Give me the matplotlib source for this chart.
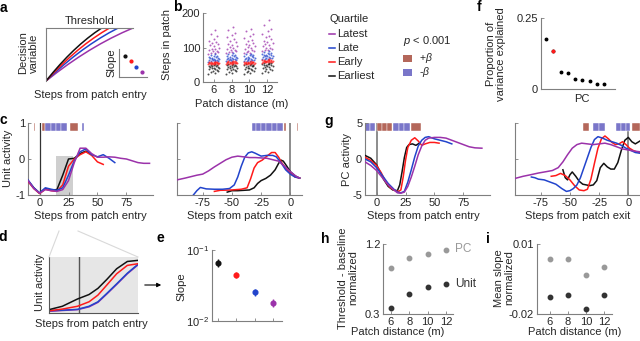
import numpy as np
import matplotlib
matplotlib.use('Agg')
import matplotlib.pyplot as plt
from matplotlib.lines import Line2D
from matplotlib.patches import Rectangle, FancyArrowPatch

plt.rcParams['font.family'] = ['Liberation Sans', 'DejaVu Sans']
plt.rcParams['font.size'] = 8
plt.rcParams['axes.unicode_minus'] = False
plt.rcParams['mathtext.fontset'] = 'custom'
plt.rcParams['mathtext.rm'] = 'Liberation Sans'
plt.rcParams['mathtext.it'] = 'Liberation Sans:italic'

# ---------------- data ----------------
quartiles = ['Latest', 'Late', 'Early', 'Earliest']

# a: schematic decision variable curves (x positions, shared y)
a_y = [0, 0.16, 0.31, 0.45, 0.58, 0.70, 0.81, 0.91, 1.0]
a_x_latest = [0, 0.125, 0.25, 0.375, 0.5, 0.625, 0.75, 0.875, 1.0]
a_x_late = [0, 0.104, 0.208, 0.311, 0.415, 0.519, 0.623, 0.726, 0.83]
a_x_early = [0, 0.091, 0.183, 0.274, 0.365, 0.456, 0.548, 0.639, 0.73]
a_x_earliest = [0, 0.08, 0.16, 0.24, 0.32, 0.40, 0.48, 0.56, 0.64]
a_slope_x = [1, 2, 3, 4]
a_slope_y = [3.75, 2.86, 1.79, 0.89]

# b: steps in patch per patch distance and quartile
distances = [6, 8, 10, 12]
jitter = [-0.6, 0.1, -0.3, 0.5, -0.1, 0.35, -0.5, 0.2, -0.2, 0.6,
          0.0, -0.4, 0.45, -0.15, 0.25, -0.55, 0.05, 0.4, -0.35, 0.15]
b_earliest = [
    [22, 26, 29, 31, 33, 35, 37, 38, 40, 41, 42, 43, 44, 45, 46, 47, 48, 49, 50, 51],
    [23, 27, 30, 32, 34, 36, 38, 39, 41, 42, 43, 44, 45, 46, 47, 48, 49, 50, 51, 52],
    [22, 26, 29, 31, 33, 35, 37, 39, 40, 41, 42, 44, 45, 46, 47, 48, 49, 50, 51, 52],
    [25, 29, 32, 35, 37, 39, 41, 43, 44, 46, 47, 48, 49, 50, 51, 52, 53, 54, 55, 56]]
b_early = [
    [51, 52, 52, 53, 53, 54, 54, 54, 55, 55, 55, 56, 56, 56, 57, 57, 57, 58, 58, 59],
    [52, 53, 53, 54, 54, 55, 55, 56, 56, 56, 57, 57, 57, 58, 58, 59, 59, 60, 60, 61],
    [52, 52, 53, 53, 54, 54, 55, 55, 55, 56, 56, 56, 57, 57, 58, 58, 58, 59, 59, 60],
    [56, 57, 57, 58, 58, 59, 59, 60, 60, 61, 61, 62, 62, 62, 63, 63, 64, 64, 65, 66]]
b_late = [
    [59, 60, 61, 62, 63, 64, 64, 65, 66, 67, 68, 69, 70, 71, 72, 73, 75, 76, 78, 80],
    [61, 62, 63, 64, 65, 66, 67, 67, 68, 69, 70, 71, 72, 73, 74, 76, 77, 79, 81, 83],
    [60, 61, 62, 63, 64, 65, 66, 67, 68, 69, 70, 71, 72, 73, 74, 75, 77, 78, 80, 82],
    [66, 67, 68, 69, 70, 71, 72, 73, 74, 75, 76, 77, 78, 79, 80, 81, 83, 85, 87, 90]]
b_latest = [
    [81, 83, 85, 87, 89, 91, 93, 95, 97, 100, 103, 106, 109, 112, 116, 120, 126, 132, 140, 150],
    [84, 86, 88, 90, 92, 94, 96, 99, 102, 105, 108, 111, 115, 119, 124, 129, 135, 142, 150, 158],
    [83, 85, 87, 89, 91, 93, 95, 98, 101, 104, 107, 110, 114, 118, 122, 127, 133, 140, 148, 155],
    [90, 92, 94, 96, 98, 100, 103, 106, 109, 112, 116, 120, 124, 129, 134, 140, 147, 155, 165, 180]]

# f: variance explained per PC
pc_idx = [1, 2, 3, 4, 5, 6, 7, 8, 9]
pc_var = [0.176, 0.134, 0.060, 0.056, 0.035, 0.032, 0.029, 0.018, 0.017]

# c: unit activity aligned to patch entry
c_entry = {
    'Earliest': ([-10, -5, 0, 5, 10, 15, 20, 25, 30, 35, 40, 45],
                 [-0.60, -0.80, -0.95, -0.82, -0.86, -0.85, -0.45, 0.00, 0.02, 0.15, 0.22, 0.12]),
    'Early': ([-10, -5, 0, 5, 10, 15, 20, 25, 30, 35, 40, 45, 50, 55],
              [-0.62, -0.82, -0.96, -0.84, -0.88, -0.90, -0.72, -0.20, 0.00, 0.12, 0.20, 0.10, -0.08, -0.15]),
    'Late': ([-10, -5, 0, 5, 10, 15, 20, 25, 30, 35, 40, 45, 50, 55, 60, 65],
             [-0.58, -0.80, -0.94, -0.80, -0.84, -0.87, -0.80, -0.45, -0.05, 0.20, 0.28, 0.12, 0.06, 0.12, 0.02, -0.10]),
    'Latest': ([-10, -5, 0, 5, 10, 15, 20, 25, 30, 35, 40, 45, 50, 55, 60, 65, 70, 75, 80, 85, 90, 95],
               [-0.60, -0.82, -0.95, -0.85, -0.88, -0.90, -0.85, -0.60, -0.10, 0.30, 0.30, 0.15, 0.05, 0.05,
                0.06, 0.05, 0.02, 0.00, -0.05, -0.10, -0.12, -0.12]),
}
# c: unit activity aligned to patch exit
c_exit = {
    'Earliest': ([-54, -50, -45, -40, -35, -31, -28, -25, -21, -17, -13, -10, -8, -6, -3, 0, 4, 8],
                 [-0.92, -0.88, -0.88, -0.87, -0.86, -0.80, -0.68, -0.60, -0.54, -0.45, -0.30, -0.12, -0.03,
                  -0.06, -0.20, -0.35, -0.47, -0.53]),
    'Early': ([-65, -60, -50, -42, -37, -34, -31, -28, -24, -20, -16, -13, -10, -7, -4, 0, 4, 8],
              [-0.90, -0.87, -0.86, -0.84, -0.80, -0.55, -0.25, -0.10, -0.03, 0.08, 0.18, 0.18, 0.05, -0.12,
               -0.25, -0.40, -0.50, -0.53]),
    'Late': ([-83, -80, -77, -72, -65, -58, -52, -48, -45, -42, -39, -36, -33, -30, -25, -20, -15, -12, -8, -4,
              0, 4, 8],
             [-1.00, -0.88, -0.79, -0.83, -0.84, -0.84, -0.82, -0.72, -0.50, -0.20, 0.05, 0.17, 0.20, 0.16, 0.08,
              0.10, 0.10, 0.06, -0.10, -0.30, -0.42, -0.50, -0.53]),
    'Latest': ([-97, -90, -80, -75, -70, -65, -60, -55, -50, -45, -40, -35, -30, -25, -20, -15, -10, -5, 0, 5, 8],
               [-0.58, -0.53, -0.45, -0.42, -0.33, -0.22, -0.12, -0.02, 0.05, 0.08, 0.06, 0.04, 0.04, 0.03, 0.02,
                -0.02, -0.06, -0.20, -0.35, -0.48, -0.53]),
}
# g: PC activity aligned to patch entry
g_entry = {
    'Earliest': ([-10, -5, 0, 3, 6, 10, 14, 18, 20, 22, 24, 26, 28, 31, 34, 37],
                 [0.5, 0.1, -0.8, -1.8, -2.8, -3.8, -4.3, -4.4, -3.6, -1.8, 0.2, 1.6, 2.0, 2.1, 1.9, 2.2]),
    'Early': ([-10, -5, 0, 4, 8, 12, 16, 19, 21, 23, 25, 27, 30, 33, 36, 39, 42, 46, 50, 54],
              [0.25, -0.2, -0.9, -1.9, -3.2, -4.0, -4.4, -4.5, -4.3, -2.5, -0.2, 1.6, 2.6, 2.95, 2.5, 1.9, 2.1,
               2.3, 2.3, 2.2]),
    'Late': ([-10, -5, 0, 5, 10, 15, 18, 21, 24, 27, 30, 33, 36, 39, 42, 45, 50, 55, 60, 65],
             [0.0, -0.4, -1.2, -2.3, -3.4, -4.2, -4.6, -4.7, -4.5, -3.2, -1.5, 0.3, 1.8, 2.6, 3.0, 3.1, 2.8, 2.6,
              2.4, 2.1]),
    'Latest': ([-10, -5, 0, 5, 10, 15, 18, 21, 24, 27, 30, 33, 36, 39, 42, 45, 50, 55, 60, 65, 70, 75, 80, 85, 91],
               [-0.4, -0.9, -1.6, -2.6, -3.6, -4.3, -4.7, -4.75, -4.6, -3.8, -2.5, -1.0, 0.6, 1.8, 2.6, 2.9, 3.0,
                3.0, 2.9, 2.6, 2.3, 2.0, 1.7, 1.55, 1.5]),
}
# g: PC activity aligned to patch exit
g_exit = {
    'Earliest': ([-56, -54, -52, -50, -48, -45, -42, -39, -36, -33, -30, -27, -24, -21, -18, -15, -12, -9, -6, -3,
                  0, 3, 6, 10],
                 [-1.5, -2.6, -2.9, -2.2, -1.8, -2.4, -3.1, -3.5, -3.6, -3.7, -3.6, -3.0, -1.2, -0.6, -1.1, -1.4,
                  -1.4, -0.5, 1.2, 2.6, 3.0, 2.4, 2.1, 2.5]),
    'Early': ([-66, -62, -58, -54, -50, -46, -42, -38, -35, -32, -29, -26, -23, -20, -17, -14, -11, -8, -5, -2,
               1, 4, 7, 10],
              [-2.4, -2.3, -2.0, -2.3, -2.9, -3.7, -4.3, -4.4, -4.2, -2.8, -0.6, 1.5, 2.8, 3.2, 2.8, 2.3, 2.0, 2.1,
               2.4, 2.0, 1.5, 1.2, 1.0, 0.9]),
    'Late': ([-83, -80, -77, -72, -67, -62, -57, -53, -50, -47, -44, -41, -38, -35, -32, -29, -26, -22, -18, -14,
              -10, -6, -2, 2, 6, 10],
             [-2.5, -2.6, -2.8, -2.9, -3.2, -3.5, -4.1, -4.5, -4.4, -4.1, -3.6, -2.6, -1.2, 0.2, 1.6, 2.7, 3.1, 2.9,
              2.6, 2.4, 2.2, 1.9, 1.5, 1.2, 0.9, 0.8]),
    'Latest': ([-97, -90, -84, -77, -70, -65, -60, -56, -52, -48, -44, -40, -35, -30, -25, -20, -15, -10, -5, 0,
                5, 10],
               [-2.7, -2.4, -2.2, -1.95, -1.75, -1.6, -1.2, -0.4, 0.6, 1.5, 2.0, 2.2, 2.1, 2.0, 2.1, 2.2, 2.0, 1.7,
                1.4, 1.25, 1.1, 1.0]),
}
# significance bars (start, width)
c_entry_pos = [(-4.8, 0.7), (2, 3), (26, 7)]
c_entry_neg = [(5, 4.6), (9.6, 4.6), (14.2, 4.6), (18.8, 4.8), (36.5, 1.5)]
c_exit_pos = [(-5.2, 1.5), (5.6, 0.8)]
c_exit_neg = [(-33, 4), (-29, 4), (-25, 4.3), (-20.5, 4.6), (-15.9, 4.6), (-11.3, 4.7)]
g_entry_pos = [(0, 4.5), (4.5, 4.5), (9, 4.5), (30, 8.5)]
g_entry_neg = [(-10, 4.5), (-5.5, 3.8), (14.5, 4.8), (19.3, 4.8), (24.1, 4.9)]
g_exit_pos = [(-39, 5.4), (3.2, 6.5)]
g_exit_neg = [(-30, 5), (-25, 5), (-10.3, 4), (-6.3, 4), (-2.3, 4)]
zoom_window = (14.4, 29.3)

# d: zoomed schematic of unit activity
d_x = [0, 0.15, 0.32, 0.45, 0.55, 0.65, 0.76, 0.88, 1.0]
d_earliest = [0.06, 0.12, 0.25, 0.33, 0.44, 0.60, 0.79, 0.92, 0.94]
d_early = [0.04, 0.07, 0.12, 0.20, 0.32, 0.50, 0.70, 0.85, 0.88]
d_late = [0.04, 0.05, 0.065, 0.12, 0.20, 0.35, 0.52, 0.71, 0.87]
d_latest = [0.03, 0.045, 0.06, 0.11, 0.19, 0.34, 0.51, 0.70, 0.86]
d_entry = 0.34

# e: slope per quartile (earliest -> latest)
e_x = [1, 2, 3, 4]
e_slope = [0.066, 0.0445, 0.0253, 0.018]
e_lo = [0.058, 0.040, 0.0225, 0.016]
e_hi = [0.074, 0.049, 0.0285, 0.0205]

# h, i: per patch distance
h_pc = [0.895, 1.016, 1.07, 1.12]
h_unit = [0.373, 0.553, 0.643, 0.68]
i_pc = [0.0036, 0.0036, -0.0033, 0.0000]
i_unit = [-0.0127, -0.0119, -0.0179, -0.0119]

# ---------------- style ----------------
COL = {'Latest': '#9b32aa', 'Late': '#2244cc', 'Early': '#ff1a1a', 'Earliest': '#111111'}
POS_C = '#b4675a'
NEG_C = '#7a76c9'
SPINE = '#7f7f7f'
TXT = '#262626'

W, H = 640, 341
fig = plt.figure(figsize=(6.4, 3.41), dpi=100)


def box(x0, y0, x1, y1):
    return [x0 / W, 1 - y1 / H, (x1 - x0) / W, (y1 - y0) / H]


def ftext(x, y, s, **kw):
    kw.setdefault('ha', 'center')
    kw.setdefault('va', 'center')
    kw.setdefault('color', TXT)
    kw.setdefault('fontsize', 8)
    fig.text(x / W, 1 - y / H, s, **kw)


def style(ax, left=True, bottom=True):
    ax.spines['top'].set_visible(False)
    ax.spines['right'].set_visible(False)
    ax.spines['left'].set_visible(left)
    ax.spines['bottom'].set_visible(bottom)
    for sp in ax.spines.values():
        sp.set_color(SPINE)
        sp.set_linewidth(0.8)
    ax.tick_params(direction='in', length=2, width=0.6, color=SPINE, labelsize=8, pad=2, labelcolor=TXT)
    ax.patch.set_alpha(0)


def fline(x0, y0, x1, y1, **kw):
    fig.add_artist(Line2D([x0 / W, x1 / W], [1 - y0 / H, 1 - y1 / H], transform=fig.transFigure, **kw))


# panel letters
for lab, (x, y) in {'a': (3, 8), 'b': (177, 7), 'c': (3, 120), 'd': (3, 237), 'e': (160, 238),
                    'f': (479, 7), 'g': (329, 121), 'h': (325, 239), 'i': (488, 239)}.items():
    ftext(x, y, lab, fontsize=10, fontweight='bold', color='black')

# ---- a ----
ax = fig.add_axes(box(46, 28, 133, 81))
style(ax, bottom=False)
ax.spines['top'].set_visible(True)
ax.set_xticks([])
ax.set_yticks([])
for q, xs in zip(quartiles, [a_x_latest, a_x_late, a_x_early, a_x_earliest]):
    ax.plot(xs, a_y, color=COL[q], lw=1.1)
ax.set_xlim(0, 1)
ax.set_ylim(0, 1)
ftext(90, 21, 'Threshold')
ftext(29, 53, 'Decision\nvariable', rotation=90, linespacing=1.1)
ftext(90, 95, 'Steps from patch entry')

ax = fig.add_axes(box(119, 49, 147, 77))
style(ax)
ax.set_xticks([])
ax.set_yticks([])
for q, x, y in zip(quartiles[::-1], a_slope_x, a_slope_y):
    ax.plot(x, y, 'o', color=COL[q], ms=2)
ax.set_xlim(-0.06, 4.88)
ax.set_ylim(0, 5)
ftext(111, 63, 'Slope', rotation=90)

# ---- b ----
ax = fig.add_axes(box(203, 13, 277, 82))
style(ax)
for vals, q in [(b_latest, 'Latest'), (b_late, 'Late'), (b_earliest, 'Earliest'), (b_early, 'Early')]:
    for d, ys in zip(distances, vals):
        ax.scatter(np.array(jitter) + d, ys, s=2, color=COL[q], linewidths=0, alpha=0.75)
ax.set_xlim(4.8, 13.1)
ax.set_ylim(0, 200)
ax.set_xticks(distances)
ax.set_yticks([0, 100, 200])
ftext(167, 45, 'Steps in patch', rotation=90)
ftext(242, 104, 'Patch distance (m)')

# legend: quartiles
ftext(330, 19, 'Quartile', ha='left')
for k, q in enumerate(quartiles):
    yy = 34 + 14 * k
    fline(329, yy, 335, yy, color=COL[q], lw=1.1)
    ftext(337, yy, q, ha='left')
# legend: significance
ftext(403, 41, '$p$ < 0.001', ha='left')
for k, (c, s) in enumerate([(POS_C, '+$\\beta$'), (NEG_C, '-$\\beta$')]):
    yy = 58 + 14 * k
    fig.add_artist(Rectangle((403 / W, 1 - (yy + 3.5) / H), 9 / W, 7 / H, transform=fig.transFigure,
                             facecolor=c, edgecolor='none'))
    ftext(419, yy, s, ha='left', fontsize=7.5)

# ---- f ----
ax = fig.add_axes(box(541, 18, 615, 89))
style(ax)
ax.plot(pc_idx, pc_var, 'o', color='black', ms=1.8)
ax.plot(pc_idx[1], pc_var[1], 'o', color=COL['Early'], ms=1.8)
ax.set_xlim(0.3, 10.5)
ax.set_ylim(0, 0.25)
ax.set_xticks([])
ax.set_yticks([0, 0.25])
ax.set_yticklabels(['0', '0.25'])
ftext(582, 99, 'PC')
ftext(496, 54, 'Proportion of\nvariance explained', rotation=90, linespacing=1.1)


# ---- c, g ----
def trace_panel(rect, curves, xlim, ylim, yticks, pos, neg, bar_y, labels, zero_col, zero_lw):
    ax = fig.add_axes(box(*rect))
    style(ax)
    ax.axvline(0, color=zero_col, lw=zero_lw, zorder=1)
    for q in quartiles[::-1]:
        xs, ys = curves[q]
        ax.plot(xs, ys, color=COL[q], lw=1.1, zorder=3)
    ax.broken_barh(pos, bar_y, facecolors=POS_C, edgecolor='white', linewidth=0.3)
    ax.broken_barh(neg, bar_y, facecolors=NEG_C, edgecolor='white', linewidth=0.3)
    ax.set_xlim(*xlim)
    ax.set_ylim(*ylim)
    ax.set_yticks(yticks)
    if not labels:
        ax.set_yticklabels([])
    return ax


ax = trace_panel((28, 123, 153, 195), c_entry, (-10, 98), (-1, 1), [-1, 0, 1],
                 c_entry_pos, c_entry_neg, (0.78, 0.22), True, '#333333', 0.9)
ax.set_xticks([0, 25, 50, 75])
ax.add_patch(Rectangle((zoom_window[0], -1), zoom_window[1] - zoom_window[0], 1.09,
                       facecolor='#cfcfcf', edgecolor='none', zorder=0))
ax = trace_panel((177, 123, 302, 195), c_exit, (-97, 10), (-1, 1), [-1, 0, 1],
                 c_exit_pos, c_exit_neg, (0.78, 0.22), False, '#8c8c8c', 1.4)
ax.set_xticks([-75, -50, -25, 0])
ax = trace_panel((365, 123, 490, 195), g_entry, (-10, 98), (-5, 5), [-5, 0, 5],
                 g_entry_pos, g_entry_neg, (3.9, 1.1), True, '#8c8c8c', 1.4)
ax.set_xticks([0, 25, 50, 75])
ax = trace_panel((515, 123, 640, 195), g_exit, (-97, 10), (-5, 5), [-5, 0, 5],
                 g_exit_pos, g_exit_neg, (3.9, 1.1), False, '#8c8c8c', 1.4)
ax.set_xticks([-75, -50, -25, 0])
ftext(8, 158, 'Unit activity', rotation=90)
ftext(90, 216, 'Steps from patch entry')
ftext(240, 216, 'Steps from patch exit')
ftext(347, 160, 'PC activity', rotation=90)
ftext(423, 216, 'Steps from patch entry')
ftext(578, 216, 'Steps from patch exit')

# ---- d ----
ax = fig.add_axes(box(49, 257, 138, 313))
style(ax)
ax.patch.set_alpha(1)
ax.set_facecolor('#e6e6e6')
ax.spines['left'].set_color('#555555')
ax.spines['bottom'].set_color('#555555')
ax.set_xticks([])
ax.set_yticks([])
ax.axvline(d_entry, color='#555555', lw=1.0)
for q, ys in zip(quartiles, [d_latest, d_late, d_early, d_earliest]):
    ax.plot(d_x, ys, color=COL[q], lw=1.1)
ax.set_xlim(0, 1)
ax.set_ylim(0, 1)
fline(49, 257, 59, 231, color='#d9d9d9', lw=0.8)
fline(138, 257, 78, 231, color='#d9d9d9', lw=0.8)
ftext(40, 282, 'Unit activity', rotation=90)
ftext(91, 324, 'Steps from patch entry')
fig.add_artist(FancyArrowPatch((142 / W, 1 - 285 / H), (164 / W, 1 - 285 / H),
                               transform=fig.transFigure, arrowstyle='-|>',
                               mutation_scale=6, color='black', lw=0.8))

# ---- e ----
ax = fig.add_axes(box(212, 250, 282, 321))
style(ax)
ax.set_yscale('log')
for q, x, y, lo, hi in zip(quartiles[::-1], e_x, e_slope, e_lo, e_hi):
    ax.errorbar(x, y, yerr=[[y - lo], [hi - y]], fmt='o', color=COL[q], ms=3.4, elinewidth=1.0, capsize=0)
ax.set_ylim(0.01, 0.1)
ax.set_xlim(0.67, 4.5)
ax.set_xticks(e_x)
ax.set_xticklabels([])
ax.set_yticks([0.01, 0.1])
ax.set_yticklabels(['$10^{-2}$', '$10^{-1}$'])
ax.minorticks_off()
ftext(181, 287, 'Slope', rotation=90)

# ---- h ----
ax = fig.add_axes(box(383, 244, 453, 314))
style(ax)
ax.plot(distances, h_pc, 'o', color='#999999', ms=3.2)
ax.plot(distances, h_unit, 'o', color='#333333', ms=3.2)
ax.set_xlim(5.13, 12.76)
ax.set_ylim(0.3, 1.2)
ax.set_xticks(distances)
ax.set_yticks([0.3, 1.2])
ax.set_yticklabels(['0.3', '1.2'])
ftext(455, 249, 'PC', ha='left', color='#999999', fontsize=8.5)
ftext(455, 284, 'Unit', ha='left', color='#333333', fontsize=8.5)
ftext(348, 278, 'Threshold - baseline\nnormalized', rotation=90, linespacing=1.1)
ftext(398, 332, 'Patch distance (m)')

# ---- i ----
ax = fig.add_axes(box(537, 244, 612, 314))
style(ax)
ax.plot(distances, i_pc, 'o', color='#999999', ms=3.2)
ax.plot(distances, i_unit, 'o', color='#333333', ms=3.2)
ax.set_xlim(4.56, 12.9)
ax.set_ylim(-0.02, 0.01)
ax.set_xticks(distances)
ax.set_yticks([-0.02, 0.01])
ax.set_yticklabels(['-0.02', '0.01'])
ftext(504, 278, 'Mean slope\nnormalized', rotation=90, linespacing=1.1)
ftext(575, 332, 'Patch distance (m)')

fig.savefig('out.png', dpi=100)
